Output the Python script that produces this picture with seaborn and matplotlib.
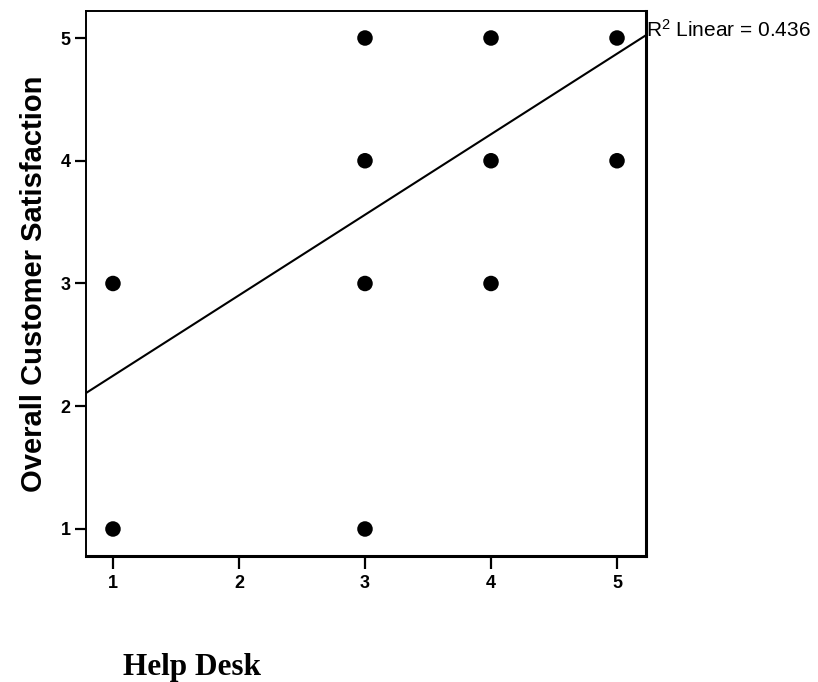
import matplotlib
matplotlib.use("Agg")
import matplotlib.pyplot as plt
import seaborn as sns
import pandas as pd
import numpy as np

# Data
help_desk = [1, 1, 3, 3, 3, 3, 4, 4, 4, 5, 5]
satisfaction = [1, 3, 1, 3, 4, 5, 3, 4, 5, 4, 5]
fit_intercept = 1.592
fit_slope = 0.656
r2_label = "R$^2$ Linear = 0.436"
x_ticks = [1, 2, 3, 4, 5]
y_ticks = [1, 2, 3, 4, 5]
x_label = "Help Desk"
y_label = "Overall Customer Satisfaction"

sns.set_theme(style="white")
plt.rcParams["font.family"] = ["Liberation Sans", "DejaVu Sans"]
plt.rcParams["mathtext.fontset"] = "custom"
plt.rcParams["mathtext.rm"] = "Liberation Sans"
plt.rcParams["mathtext.it"] = "Liberation Sans"
plt.rcParams["text.color"] = "black"
plt.rcParams["axes.labelcolor"] = "black"
plt.rcParams["xtick.color"] = "black"
plt.rcParams["ytick.color"] = "black"

df = pd.DataFrame({"x": help_desk, "y": satisfaction})

fig = plt.figure(figsize=(8.18, 6.82), dpi=100)
ax = fig.add_axes([86 / 818, 126 / 682, 560 / 818, 545 / 682])

sns.scatterplot(data=df, x="x", y="y", ax=ax, color="black", s=125,
                edgecolor="none", zorder=3)

xlim = (0.786, 5.23)
ylim = (0.78, 5.22)
xs = np.array(xlim)
line_df = pd.DataFrame({"x": xs, "y": fit_intercept + fit_slope * xs})
sns.lineplot(data=line_df, x="x", y="y", ax=ax, color="black", lw=1.5,
             zorder=2)

ax.set_xlim(*xlim)
ax.set_ylim(*ylim)
ax.set_xticks(x_ticks)
ax.set_yticks(y_ticks)
ax.set_xticklabels([str(t) for t in x_ticks], fontsize=13, fontweight="bold")
ax.set_yticklabels([str(t) for t in y_ticks], fontsize=13, fontweight="bold")
ax.tick_params(axis="x", which="major", direction="out", length=9.5,
               width=1.6, color="black", labelcolor="black", pad=4, bottom=True)
ax.tick_params(axis="y", which="major", direction="out", length=8,
               width=1.6, color="black", labelcolor="black", pad=3, left=True)

ax.set_xlabel("")
ax.set_ylabel(y_label, fontsize=21, fontweight="bold", labelpad=9,
              color="black")

for side in ["left", "top"]:
    ax.spines[side].set_visible(True)
    ax.spines[side].set_linewidth(1.4)
    ax.spines[side].set_color("black")
for side in ["bottom", "right"]:
    ax.spines[side].set_visible(True)
    ax.spines[side].set_linewidth(2.2)
    ax.spines[side].set_color("black")

ax.text(1.0, 0.952, r2_label, transform=ax.transAxes, ha="left",
        va="baseline", fontsize=15, color="black")

fig.text(123 / 818, 7 / 682, x_label, ha="left", va="baseline",
         fontsize=22.5, fontweight="bold", color="black",
         family=["Liberation Serif", "DejaVu Serif"])

fig.savefig("out.png", dpi=100)
